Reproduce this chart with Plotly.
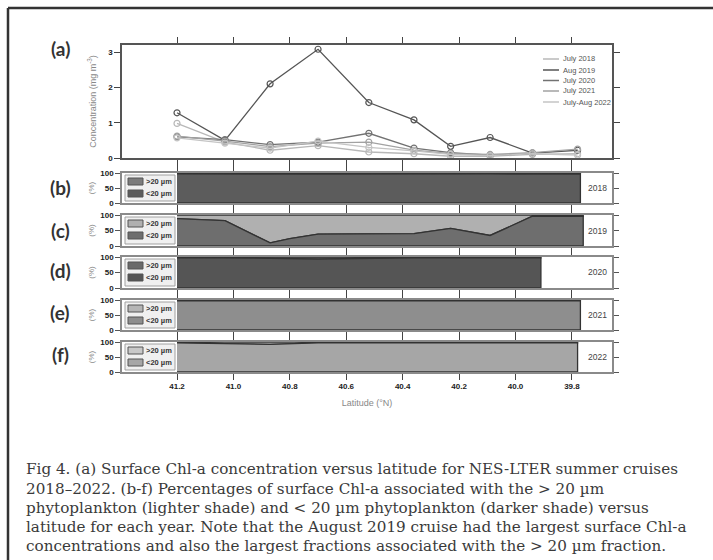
import plotly.graph_objects as go

W, H = 713, 560

# ---------------- data ----------------
station_lat = [41.2, 41.03, 40.87, 40.70, 40.52, 40.36, 40.23, 40.09, 39.94, 39.78]
series_names = ["July 2018", "Aug 2019", "July 2020", "July 2021", "July-Aug 2022"]
chl_2018 = [0.98, 0.45, 0.22, 0.35, 0.17, 0.12, 0.05, 0.05, 0.10, 0.12]
chl_2019 = [1.28, 0.50, 2.10, 3.08, 1.57, 1.08, 0.33, 0.58, 0.14, 0.22]
chl_2020 = [0.60, 0.52, 0.38, 0.45, 0.70, 0.28, 0.15, 0.08, 0.12, None]
chl_2021 = [0.62, 0.48, 0.32, 0.42, 0.45, 0.22, 0.12, 0.10, 0.15, 0.25]
chl_2022 = [0.57, 0.42, 0.28, 0.48, 0.30, 0.20, 0.10, 0.07, 0.12, 0.08]

years = ["2018", "2019", "2020", "2021", "2022"]
lat_2018 = [41.2, 41.03, 40.87, 40.70, 40.52, 40.36, 40.23, 40.09, 39.94, 39.77]
pct_2018 = [97, 96, 97, 96, 96, 97, 96, 97, 96, 97]
lat_2019 = [41.2, 41.03, 40.87, 40.80, 40.70, 40.52, 40.36, 40.23, 40.09, 39.94, 39.76]
pct_2019 = [88, 82, 10, 24, 38, 40, 40, 57, 34, 96, 96]
lat_2020 = [41.2, 41.03, 40.87, 40.70, 40.52, 40.36, 40.23, 40.09, 39.91]
pct_2020 = [97, 97, 96, 93, 96, 97, 97, 97, 97]
lat_2021 = [41.2, 41.03, 40.87, 40.70, 40.52, 40.36, 40.23, 40.09, 39.94, 39.77]
pct_2021 = [97, 97, 97, 97, 97, 97, 97, 97, 97, 97]
lat_2022 = [41.2, 41.03, 40.87, 40.70, 40.52, 40.36, 40.23, 40.09, 39.94, 39.78]
pct_2022 = [97, 95, 92, 97, 97, 97, 97, 97, 97, 97]

lat_ticks = [41.2, 41.0, 40.8, 40.6, 40.4, 40.2, 40.0, 39.8]
size_labels = [">20 µm", "&lt;20 µm"]
panel_labels = ["(a)", "(b)", "(c)", "(d)", "(e)", "(f)"]
caption_lines = [
    "Fig 4. (a) Surface Chl-a concentration versus latitude for NES-LTER summer cruises",
    "2018\u20132022. (b-f) Percentages of surface Chl-a associated with the &gt; 20 µm",
    "phytoplankton (lighter shade) and &lt; 20 µm phytoplankton (darker shade) versus",
    "latitude for each year. Note that the August 2019 cruise had the largest surface Chl-a",
    "concentrations and also the largest fractions associated with the &gt; 20 µm fraction.",
]

# ---------------- style ----------------
line_colors = ["#b8b8b8", "#555555", "#727272", "#a2a2a2", "#c4c4c4"]
lower_colors = ["#5c5c5c", "#6e6e6e", "#555555", "#8e8e8e", "#a6a6a6"]
upper_colors = ["#7c7c7c", "#b0b0b0", "#6a6a6a", "#b5b5b5", "#c8c8c8"]

def X(px):
    return px / W

def Y(py):
    return 1 - py / H

left_px, right_px = 122, 612
a_top, a_bot = 45, 158
panels_px = [(173, 203), (215, 246), (257, 288), (300, 330), (342, 372)]

fig = go.Figure()

chl_all = [chl_2018, chl_2019, chl_2020, chl_2021, chl_2022]
for name, vals, col in zip(series_names, chl_all, line_colors):
    fig.add_trace(go.Scatter(
        x=station_lat, y=vals, mode="lines+markers", name=name,
        line=dict(color=col, width=1.3),
        marker=dict(symbol="circle-open", size=6, color=col, line=dict(width=1.2)),
        xaxis="x", yaxis="y", showlegend=False, connectgaps=False))

lats_all = [lat_2018, lat_2019, lat_2020, lat_2021, lat_2022]
pcts_all = [pct_2018, pct_2019, pct_2020, pct_2021, pct_2022]
for i, (lats, pct) in enumerate(zip(lats_all, pcts_all)):
    ax = str(i + 2)
    fig.add_trace(go.Scatter(
        x=lats + lats[::-1], y=[100] * len(lats) + pct[::-1],
        mode="lines", fill="toself", fillcolor=upper_colors[i],
        line=dict(color="#333333", width=1.3), name=">20 µm " + years[i],
        xaxis="x" + ax, yaxis="y" + ax, showlegend=False, hoverinfo="skip"))
    fig.add_trace(go.Scatter(
        x=lats + [lats[-1], lats[0]], y=pct + [0, 0],
        mode="lines", fill="toself", fillcolor=lower_colors[i],
        line=dict(color="#333333", width=1.3), name="<20 µm " + years[i],
        xaxis="x" + ax, yaxis="y" + ax, showlegend=False, hoverinfo="skip"))

tickfont = dict(family="Liberation Sans", size=8, color="#222222", weight="bold")
xcommon = dict(range=[41.395, 39.658], tickvals=lat_ticks, tickformat=".1f",
               ticks="outside", ticklen=6, tickwidth=1.3, tickcolor="#444444",
               showline=True, linewidth=1.5, mirror="ticks",
               showgrid=False, zeroline=False, domain=[X(left_px), X(right_px)],
               tickfont=tickfont)

layout = dict(
    width=W, height=H, margin=dict(l=0, r=0, t=0, b=0),
    paper_bgcolor="white", plot_bgcolor="white", showlegend=False,
    font=dict(family="Liberation Sans"),
)
layout["xaxis"] = dict(xcommon, anchor="y", showticklabels=False, linecolor="#555555")
layout["yaxis"] = dict(
    range=[0, 3.2], tickvals=[0, 1, 2, 3], domain=[Y(a_bot), Y(a_top)], anchor="x",
    ticks="outside", ticklen=6, tickwidth=1.3, tickcolor="#444444",
    showline=True, linewidth=1.5, linecolor="#555555", mirror="ticks",
    showgrid=False, zeroline=False, tickfont=tickfont,
    title=dict(text="Concentration (mg m<sup>-3</sup>)", standoff=10,
               font=dict(family="Liberation Sans", size=9, color="#888888")),
    automargin=False)
for i, (t, b) in enumerate(panels_px):
    ax = str(i + 2)
    last = (i == 4)
    xa = dict(xcommon, anchor="y" + ax, showticklabels=last, linecolor="#8a8a8a")
    if last:
        xa["title"] = dict(text="Latitude (°N)", standoff=9,
                           font=dict(family="Liberation Sans", size=9, color="#888888"))
        xa["automargin"] = False
    layout["xaxis" + ax] = xa
    layout["yaxis" + ax] = dict(
        range=[0, 100], tickvals=[0, 50, 100], domain=[Y(b), Y(t)], anchor="x" + ax,
        ticks="outside", ticklen=5, tickwidth=1.2, tickcolor="#555555",
        showline=True, linewidth=1.5, linecolor="#8a8a8a", mirror="ticks",
        showgrid=False, zeroline=False, tickfont=tickfont,
        title=dict(text="(%)", standoff=4,
                   font=dict(family="Liberation Sans", size=8, color="#888888")),
        automargin=False)

shapes = []
annotations = []

# outer frame (top and left rules)
shapes.append(dict(type="line", xref="paper", yref="paper", x0=X(8), x1=1, y0=Y(8), y1=Y(8),
                   line=dict(color="#333333", width=2.5)))
shapes.append(dict(type="line", xref="paper", yref="paper", x0=X(8), x1=X(8), y0=Y(8), y1=0,
                   line=dict(color="#333333", width=2.5)))

# panel (a) legend
leg_y = [59, 70, 80.5, 91, 102]
for name, col, yy in zip(series_names, line_colors, leg_y):
    shapes.append(dict(type="line", xref="paper", yref="paper", x0=X(543), x1=X(559),
                       y0=Y(yy), y1=Y(yy), line=dict(color=col, width=1.5)))
    annotations.append(dict(text=name, xref="paper", yref="paper", x=X(561), y=Y(yy),
                            xanchor="left", yanchor="middle", showarrow=False,
                            font=dict(family="Liberation Sans", size=7.5, color="#555555")))

# panel (b-f) legends and year labels
for i, (t, b) in enumerate(panels_px):
    shapes.append(dict(type="rect", xref="paper", yref="paper", x0=X(125), x1=X(175),
                       y0=Y(b - 2), y1=Y(t + 2), fillcolor="#f0f0f0",
                       line=dict(color="#a0a0a0", width=1), layer="above"))
    for j, (col, dy) in enumerate([(upper_colors[i], 5), (lower_colors[i], 17)]):
        shapes.append(dict(type="rect", xref="paper", yref="paper", x0=X(128), x1=X(143),
                           y0=Y(t + dy + 7), y1=Y(t + dy), fillcolor=col,
                           line=dict(color="#555555", width=1), layer="above"))
        annotations.append(dict(text="<b>" + size_labels[j] + "</b>", xref="paper", yref="paper",
                                x=X(144), y=Y(t + dy + 3.5), xanchor="left", yanchor="middle",
                                showarrow=False,
                                font=dict(family="Liberation Sans", size=7.5, color="#333333")))
    annotations.append(dict(text=years[i], xref="paper", yref="paper", x=X(597),
                            y=Y((t + b) / 2), xanchor="center", yanchor="middle",
                            showarrow=False,
                            font=dict(family="Liberation Sans", size=8.5, color="#444444")))

# panel letters
label_y = [48, 188, 230, 270, 312, 354]
for lab, yy in zip(panel_labels, label_y):
    annotations.append(dict(text="<b>" + lab + "</b>", xref="paper", yref="paper", x=X(60),
                            y=Y(yy), xanchor="center", yanchor="middle", showarrow=False,
                            font=dict(family="Lato", size=19, color="#333333")))

# caption
cap_y = [469, 488.5, 508, 527, 546]
for line, yy in zip(caption_lines, cap_y):
    annotations.append(dict(text=line, xref="paper", yref="paper", x=X(24), y=Y(yy),
                            xanchor="left", yanchor="middle", showarrow=False,
                            font=dict(family="DejaVu Serif", size=15.2, color="#3a3a3a")))

layout["shapes"] = shapes
layout["annotations"] = annotations
fig.update_layout(**layout)
fig.write_html("out.html", config={"displayModeBar": False},
               post_script="document.body.style.margin='0px';")
